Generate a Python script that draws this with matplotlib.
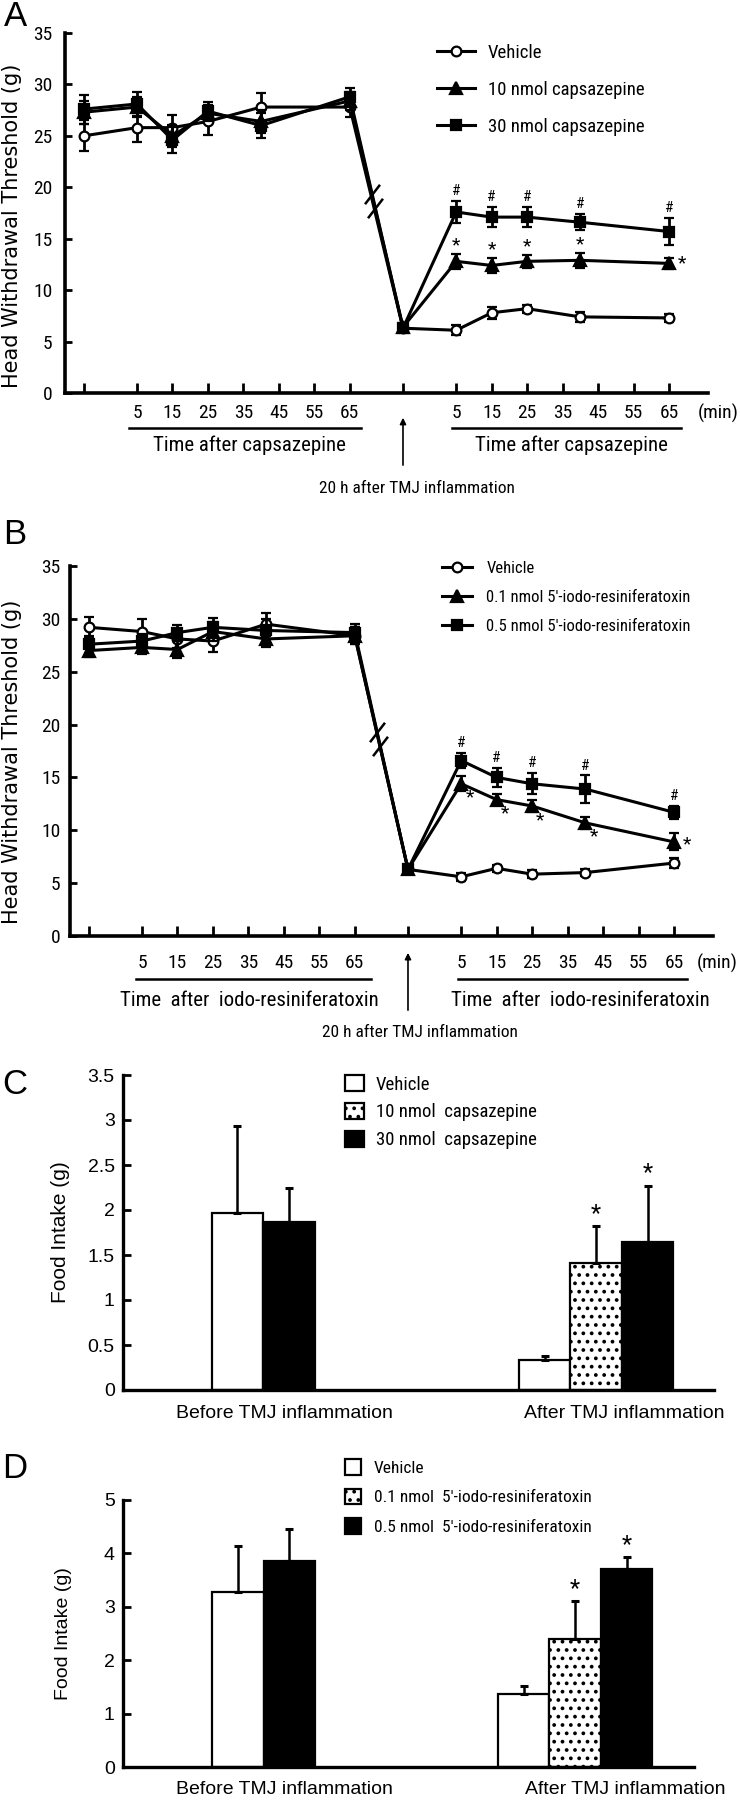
import matplotlib
matplotlib.use("Agg")
import matplotlib.pyplot as plt
from matplotlib import font_manager
import numpy as np

# the figure's lettering is tall and narrow; use a narrow face when one is installed
installed = {f.name for f in font_manager.fontManager.ttflist}
narrow_faces = [n for n in ["Liberation Sans Narrow", "Roboto Condensed", "Open Sans Condensed",
                            "DejaVu Sans Condensed"] if n in installed]
NARROW = narrow_faces + ["Liberation Sans", "DejaVu Sans"]
PLAIN = ["Liberation Sans", "DejaVu Sans"]
WIDE = ["DejaVu Sans"]
plt.rcParams["font.family"] = NARROW
plt.rcParams["hatch.linewidth"] = 1.5

# ---------------- panels A and B: head withdrawal threshold (g) ----------------
# point order: baseline, 5/15/25/40/65 min after drug, 20 h after TMJ inflammation,
# then 5/15/25/40/65 min after drug again
pre_times = [5, 15, 25, 40, 65]
post_times = [5, 15, 25, 40, 65]
tick_minutes = [5, 15, 25, 35, 45, 55, 65]

a_names = ["Vehicle", "10 nmol capsazepine", "30 nmol capsazepine"]
a_vehicle = [25.0, 25.8, 25.8, 26.4, 27.8, 27.8, 6.3, 6.1, 7.8, 8.2, 7.4, 7.3]
a_vehicle_err = [1.5, 1.4, 1.2, 1.3, 1.4, 1.0, 0.4, 0.5, 0.6, 0.4, 0.5, 0.4]
a_cpz10 = [27.3, 27.8, 25.0, 27.2, 26.4, 28.4, 6.4, 12.8, 12.4, 12.8, 12.9, 12.6]
a_cpz10_err = [1.1, 1.0, 1.1, 0.8, 1.1, 0.9, 0.4, 0.7, 0.7, 0.6, 0.7, 0.5]
a_cpz30 = [27.6, 28.1, 24.6, 27.4, 26.0, 28.8, 6.3, 17.6, 17.1, 17.1, 16.6, 15.7]
a_cpz30_err = [1.4, 1.2, 1.3, 0.9, 1.2, 0.9, 0.4, 1.1, 1.0, 1.0, 0.8, 1.3]

b_names = ["Vehicle", "0.1 nmol 5'-iodo-resiniferatoxin", "0.5 nmol 5'-iodo-resiniferatoxin"]
b_vehicle = [29.2, 28.8, 28.1, 27.9, 29.5, 28.4, 6.3, 5.6, 6.4, 5.85, 6.0, 6.9]
b_vehicle_err = [1.0, 1.2, 0.9, 1.0, 1.1, 0.8, 0.3, 0.35, 0.35, 0.35, 0.3, 0.45]
b_rtx01 = [27.0, 27.3, 27.1, 28.8, 28.1, 28.4, 6.3, 14.4, 12.9, 12.3, 10.7, 8.9]
b_rtx01_err = [0.6, 0.6, 0.8, 0.9, 0.8, 0.8, 0.3, 0.7, 0.5, 0.6, 0.6, 0.8]
b_rtx05 = [27.6, 27.9, 28.7, 29.2, 28.9, 28.7, 6.3, 16.6, 15.0, 14.4, 13.9, 11.7]
b_rtx05_err = [0.8, 0.7, 0.7, 0.9, 1.1, 0.8, 0.3, 0.7, 0.9, 1.0, 1.3, 0.6]

# points marked significant (# on the high dose, * on the low dose)
hash_points = [7, 8, 9, 10, 11]
star_points = [7, 8, 9, 10, 11]

# ---------------- panels C and D: food intake (g) ----------------
groups = ["Before TMJ inflammation", "After TMJ inflammation"]
c_names = ["Vehicle", "10 nmol  capsazepine", "30 nmol  capsazepine"]
c_vehicle = [1.97, 0.33]
c_vehicle_err = [0.96, 0.05]
c_cpz10 = [np.nan, 1.41]
c_cpz10_err = [np.nan, 0.41]
c_cpz30 = [1.87, 1.65]
c_cpz30_err = [0.37, 0.62]

d_names = ["Vehicle", "0.1 nmol  5'-iodo-resiniferatoxin", "0.5 nmol  5'-iodo-resiniferatoxin"]
d_vehicle = [3.28, 1.37]
d_vehicle_err = [0.86, 0.15]
d_rtx01 = [np.nan, 2.40]
d_rtx01_err = [np.nan, 0.71]
d_rtx05 = [3.86, 3.71]
d_rtx05_err = [0.60, 0.22]

bar_stars = [(1, 1), (2, 1)]  # (series, group)


fig = plt.figure(figsize=(7.4, 18), dpi=100)


def rect(left, top, right, bottom):
    return [left / 740, 1 - bottom / 1800, (right - left) / 740, (bottom - top) / 1800]


def fig_text(x, y, s, **kw):
    fig.text(x / 740, 1 - y / 1800, s, **kw)


def time_positions():
    pre = [(t - 5) / 10 for t in pre_times]
    post = [9 + (t - 5) / 10 for t in post_times]
    return np.array([-1.5] + pre + [7.5] + post)


def time_panel(ax, series, errs, names, geo):
    x = time_positions()
    styles = [("o", "white", 7, 3), ("^", "black", 8, 4), ("s", "black", 7.5, 5)]
    handles = []
    for y, e, (m, fc, ms, z) in zip(series, errs, styles):
        c = ax.errorbar(x, y, yerr=e, color="black", lw=2.2, marker=m, ms=ms,
                        mfc=fc, mec="black", mew=1.6, elinewidth=2.0, capsize=3.6,
                        capthick=2.0, zorder=z)
        handles.append(c.lines[0])

    # break marks on the drop to the inflamed state
    y = series[2]
    for t in (0.42, 0.48):
        xb = x[5] + t * (x[6] - x[5])
        yb = y[5] + t * (y[6] - y[5])
        ax.plot(xb, yb, marker=[(-1, -1.3), (1, 1.3)], ms=14, mew=1.8,
                color="black", zorder=6)

    # significance marks
    hi, lo = series[2], series[1]
    hi_e, lo_e = errs[2], errs[1]
    for i in hash_points:
        ax.annotate("#", (x[i], hi[i] + hi_e[i]), xytext=(0, 2), textcoords="offset points",
                    ha="center", va="bottom", fontsize=11)
    last = star_points[-1]
    for i in star_points:
        if i == last:
            off, va, ybase = (9, -2 if geo["star_below"] else 0), "center", lo[i]
        elif geo["star_below"]:
            off, va, ybase = (6, -10), "center", lo[i]
        else:
            off, va, ybase = (0, 0), "bottom", lo[i] + lo_e[i]
        ax.annotate("*", (x[i], ybase), xytext=off, textcoords="offset points",
                    ha="center", va=va, fontsize=14)

    ax.set_xlim(-2.03, 16.1)
    ax.set_ylim(0, 35)
    ax.set_yticks(range(0, 36, 5))
    pre_ticks = [(m - 5) / 10 for m in tick_minutes]
    post_ticks = [9 + (m - 5) / 10 for m in tick_minutes]
    ticks = [-1.5] + pre_ticks + [7.5] + post_ticks
    labels = [""] + [str(m) for m in tick_minutes] + [""] + [str(m) for m in tick_minutes]
    ax.set_xticks(ticks, labels)
    ax.tick_params(axis="x", direction="in", length=7, width=2, pad=geo["xpad"], labelsize=14)
    ax.tick_params(axis="y", direction="in", length=5, width=2, pad=geo["ypad"], labelsize=14)
    for side in ("top", "right"):
        ax.spines[side].set_visible(False)
    for side in ("left", "bottom"):
        ax.spines[side].set_linewidth(2.6)

    xa = ax.get_xaxis_transform()
    for x0, x1, xc in ((geo["l0"], geo["l1"], geo["t0"]), (geo["r0"], geo["r1"], geo["t1"])):
        ax.plot([x0, x1], [geo["line_y"]] * 2, transform=xa, clip_on=False, color="black", lw=1.8)
        ax.text(xc, geo["text_y"], geo["title"], transform=xa, ha="center", va="center",
                fontsize=15)
    ax.annotate("", xy=(7.5, geo["tip"]), xytext=(7.5, geo["tail"]), xycoords=xa,
                textcoords=xa, arrowprops=dict(arrowstyle="-|>", lw=1.2, color="black",
                                               mutation_scale=9))
    ax.text(geo["h20_x"], geo["h20_y"], "20 h after TMJ inflammation", transform=xa,
            ha="center", va="center", fontsize=12.5)
    ax.text(geo["min_x"], geo["min_y"], "(min)", transform=xa, ha="left", va="center",
            fontsize=14)

    ax.legend(handles, names, loc="upper left",
              bbox_to_anchor=geo["leg_anchor"], bbox_transform=fig.transFigure,
              frameon=False, fontsize=geo["leg_fs"], handlelength=geo["leg_hl"],
              handletextpad=geo["leg_pad"], labelspacing=geo["leg_sp"],
              borderpad=0, borderaxespad=0)


axA = fig.add_axes(rect(65, 33, 708, 393))
time_panel(axA, [a_vehicle, a_cpz10, a_cpz30], [a_vehicle_err, a_cpz10_err, a_cpz30_err],
           a_names,
           dict(xpad=8, ypad=9, star_below=False,
                l0=-0.23, l1=6.31, r0=8.87, r1=15.35, t0=3.18, t1=12.25,
                line_y=-0.097, text_y=-0.144, title="Time after capsazepine",
                tip=-0.061, tail=-0.208, h20_x=7.9, h20_y=-0.264,
                min_x=15.8, min_y=-0.056,
                leg_anchor=(437 / 740, 1 - 44 / 1800), leg_fs=13.5, leg_hl=2.0,
                leg_pad=0.7, leg_sp=1.0))

axB = fig.add_axes(rect(70, 566, 713, 936))
time_panel(axB, [b_vehicle, b_rtx01, b_rtx05], [b_vehicle_err, b_rtx01_err, b_rtx05_err],
           b_names,
           dict(xpad=13, ypad=7, star_below=True,
                l0=-0.17, l1=6.45, r0=8.92, r1=15.36, t0=3.03, t1=12.37,
                line_y=-0.116, text_y=-0.173, title="Time  after  iodo-resiniferatoxin",
                tip=-0.038, tail=-0.208, h20_x=7.85, h20_y=-0.262,
                min_x=15.64, min_y=-0.073,
                leg_anchor=(442 / 740, 1 - 561 / 1800), leg_fs=12, leg_hl=1.8,
                leg_pad=0.85, leg_sp=0.85))

for y0 in (226, 762):
    fig_text(12, y0, "Head Withdrawal Threshold (g)", rotation=90, ha="center",
             va="center", family=WIDE, fontsize=15)


def bar_panel(ax, series, errs, names, geo):
    faces = ["white", "white", "black"]
    hatches = [None, "..", None]
    handles = []
    for k, (vals, e) in enumerate(zip(series, errs)):
        xs = []
        for gi, centre in enumerate(geo["centres"]):
            present = [j for j in range(len(series)) if not np.isnan(series[j][gi])]
            offsets = np.arange(len(present)) - (len(present) - 1) / 2
            xs.append(centre + offsets[present.index(k)] if k in present else centre)
        e = np.nan_to_num(np.array(e, dtype=float))
        b = ax.bar(xs, vals, width=1.0, color=faces[k], edgecolor="black", linewidth=1.6,
                   hatch=hatches[k], yerr=[np.zeros_like(e), e],
                   error_kw=dict(elinewidth=1.8, capsize=2.6, capthick=2.2, ecolor="black"))
        handles.append(b)
        for s, g in bar_stars:
            if s == k:
                ax.annotate("*", (xs[g], vals[g] + e[g]), xytext=(0, 1),
                            textcoords="offset points", ha="center", va="bottom",
                            fontsize=17)

    ax.set_xlim(0, geo["xmax"])
    ax.set_ylim(0, geo["ymax"])
    ax.set_yticks(geo["yticks"], geo["ylabels"])
    ax.set_xticks(geo["label_pos"], groups)
    ax.tick_params(axis="x", length=0, pad=geo["xpad"], labelsize=14, labelfontfamily=PLAIN[0])
    ax.tick_params(axis="y", direction="in", length=6, width=2, pad=6, labelsize=14,
                   labelfontfamily=PLAIN[0])
    for side in ("top", "right"):
        ax.spines[side].set_visible(False)
    for side in ("left", "bottom"):
        ax.spines[side].set_linewidth(2.4)
    ax.set_ylabel("Food Intake (g)", family=PLAIN, fontsize=geo["ylab_fs"])
    ax.yaxis.set_label_coords(geo["ylab_x"], 0.5)
    ax.legend(handles, names, loc="upper left", bbox_to_anchor=geo["leg_anchor"],
              bbox_transform=fig.transFigure, frameon=False, fontsize=geo["leg_fs"],
              handlelength=geo["leg_hl"], handleheight=geo["leg_hh"],
              handletextpad=geo["leg_pad"], labelspacing=geo["leg_sp"],
              borderpad=0, borderaxespad=0)


axC = fig.add_axes(rect(123, 1075, 714, 1390))
bar_panel(axC, [c_vehicle, c_cpz10, c_cpz30], [c_vehicle_err, c_cpz10_err, c_cpz30_err],
          c_names,
          dict(centres=[2.72, 9.19], xmax=11.48, ymax=3.5,
               yticks=np.arange(0, 3.51, 0.5),
               ylabels=["0", "0.5", "1", "1.5", "2", "2.5", "3", "3.5"],
               label_pos=[3.13, 9.73], xpad=11, ylab_fs=15, ylab_x=-0.09,
               leg_anchor=(345 / 740, 1 - 1075 / 1800), leg_fs=13.5, leg_hl=1.0,
               leg_hh=0.95, leg_pad=0.65, leg_sp=0.5))

axD = fig.add_axes(rect(123, 1500, 694, 1767))
bar_panel(axD, [d_vehicle, d_rtx01, d_rtx05], [d_vehicle_err, d_rtx01_err, d_rtx05_err],
          d_names,
          dict(centres=[2.73, 8.78], xmax=11.09, ymax=5,
               yticks=range(0, 6), ylabels=[str(v) for v in range(6)],
               label_pos=[3.13, 9.75], xpad=10, ylab_fs=14, ylab_x=-0.09,
               leg_anchor=(345 / 740, 1 - 1459 / 1800), leg_fs=12.5, leg_hl=0.9,
               leg_hh=1.0, leg_pad=0.75, leg_sp=0.75))

for letter, y in (("A", 17), ("B", 535), ("C", 1085), ("D", 1468)):
    fig_text(15, y, letter, ha="center", va="center", family=PLAIN, fontsize=25)

fig.savefig("out.png", dpi=100)
